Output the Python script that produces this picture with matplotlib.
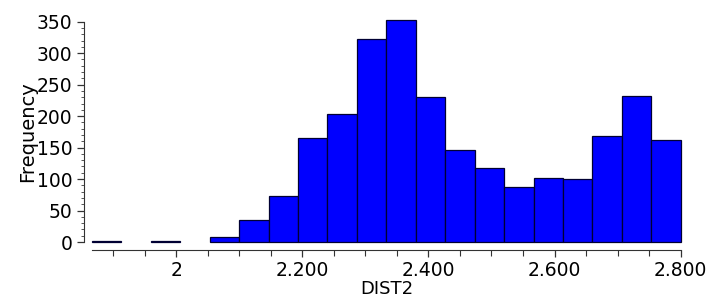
"""
Histogram of DIST2
"""
import numpy as np
import matplotlib.pyplot as plt
from matplotlib.ticker import MultipleLocator, FixedLocator

# Bin edges and counts
bin_start = 1.8667
bin_end = 2.8
counts = [1, 0, 1, 0, 8, 35, 73, 166, 204, 323, 352, 230, 146, 117, 87, 101, 100, 168, 232, 162]

xtick_values = [2.0, 2.2, 2.4, 2.6, 2.8]
xtick_labels = ['2', '2.200', '2.400', '2.600', '2.800']
yticks = [0, 50, 100, 150, 200, 250, 300, 350]

edges = np.linspace(bin_start, bin_end, len(counts) + 1)

fig = plt.figure(figsize=(7.07, 2.99), dpi=100)
ax = fig.add_axes([0.1301, 0.1906, 0.8327, 0.7368])

_, _, patches = ax.hist(edges[:-1], bins=edges, weights=counts, color='#0000ff',
                        edgecolor='#000033', linewidth=0.9)
# the tallest bar pokes just above 350; empty bins draw nothing
for p, c in zip(patches, counts):
    p.set_clip_on(False)
    if c == 0:
        p.set_visible(False)

ax.set_xlim(bin_start, bin_end)
ax.set_ylim(0, 350)

# Detached axes like the original
for side in ['top', 'right']:
    ax.spines[side].set_visible(False)
ax.spines['left'].set_position(('outward', 6))
ax.spines['bottom'].set_position(('outward', 6))
ax.spines['left'].set_color('#333333')
ax.spines['bottom'].set_color('#333333')

ax.set_yticks(yticks)
ax.yaxis.set_minor_locator(MultipleLocator(10))
ax.xaxis.set_major_locator(FixedLocator(xtick_values))
ax.set_xticklabels(xtick_labels)
ax.xaxis.set_minor_locator(MultipleLocator(0.05))

ax.tick_params(axis='both', which='major', labelsize=13.5, length=5, width=0.9,
               color='#333333', pad=3)
ax.tick_params(axis='y', which='minor', length=2.5, width=0.7, color='#555555')
ax.tick_params(axis='x', which='minor', length=4, width=0.8, color='#333333')

ax.set_xlabel('DIST2', fontsize=13, labelpad=0)
ax.set_ylabel('Frequency', fontsize=14, labelpad=0)

fig.savefig('out.png', dpi=100, facecolor='white')
